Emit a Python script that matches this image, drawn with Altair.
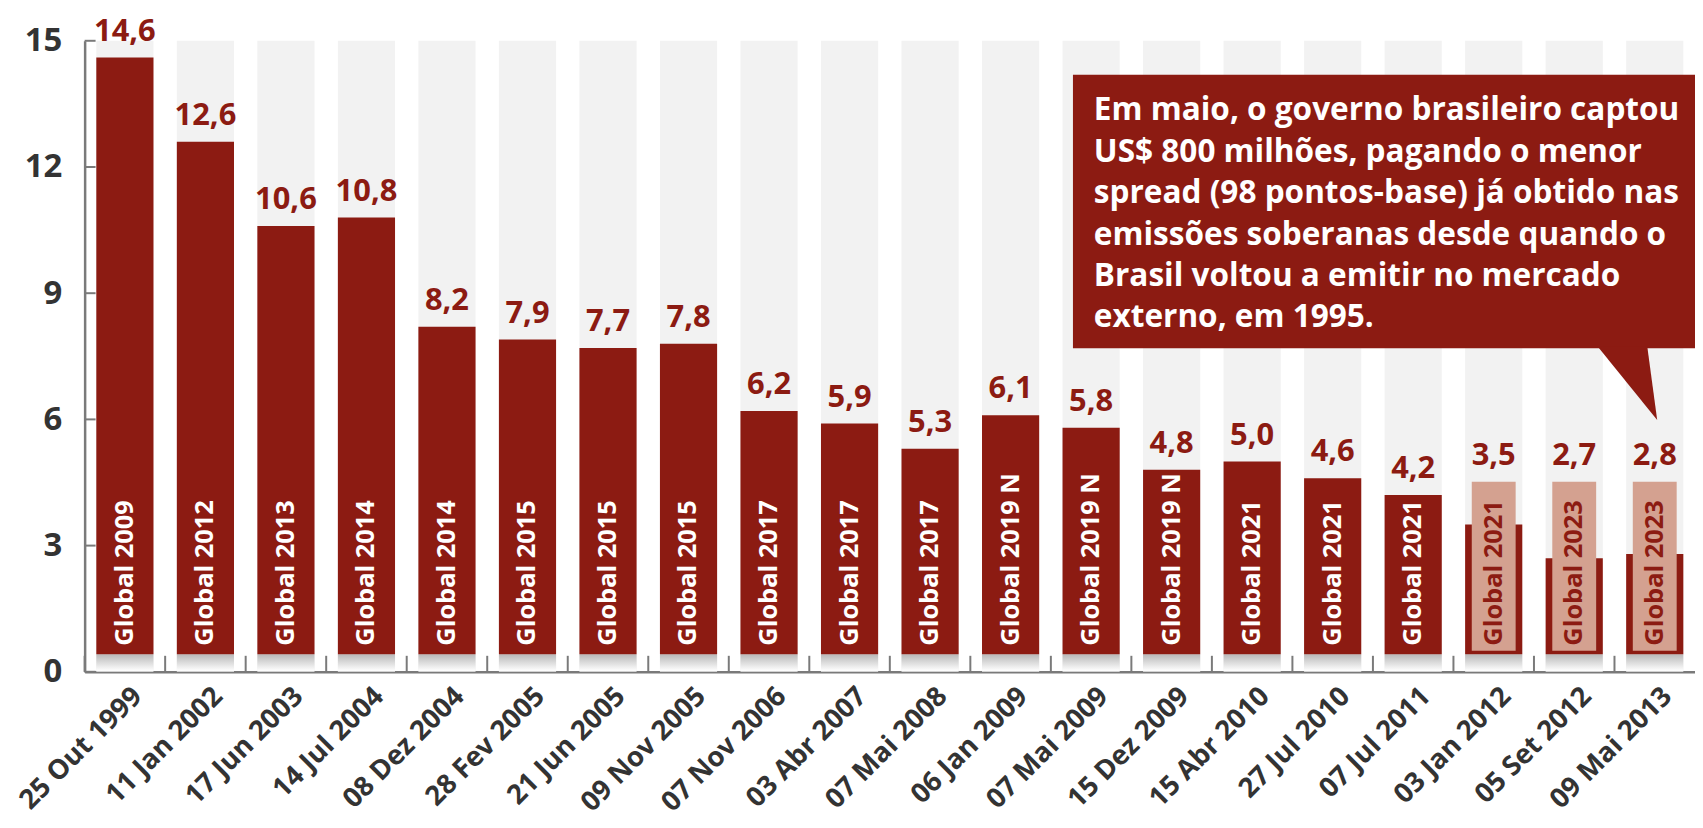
import altair as alt
import pandas as pd

# ---- data ----
dates = ["25 Out 1999", "11 Jan 2002", "17 Jun 2003", "14 Jul 2004", "08 Dez 2004",
         "28 Fev 2005", "21 Jun 2005", "09 Nov 2005", "07 Nov 2006", "03 Abr 2007",
         "07 Mai 2008", "06 Jan 2009", "07 Mai 2009", "15 Dez 2009", "15 Abr 2010",
         "27 Jul 2010", "07 Jul 2011", "03 Jan 2012", "05 Set 2012", "09 Mai 2013"]
values = [14.6, 12.6, 10.6, 10.8, 8.2, 7.9, 7.7, 7.8, 6.2, 5.9,
          5.3, 6.1, 5.8, 4.8, 5.0, 4.6, 4.2, 3.5, 2.7, 2.8]
bonds = ["Global 2009", "Global 2012", "Global 2013", "Global 2014", "Global 2014",
         "Global 2015", "Global 2015", "Global 2015", "Global 2017", "Global 2017",
         "Global 2017", "Global 2019 N", "Global 2019 N", "Global 2019 N", "Global 2021",
         "Global 2021", "Global 2021", "Global 2021", "Global 2023", "Global 2023"]
y_ticks = [0, 3, 6, 9, 12, 15]
note_lines = ["Em maio, o governo brasileiro captou",
              "US$ 800 milhões, pagando o menor",
              "spread (98 pontos-base) já obtido nas",
              "emissões soberanas desde quando o",
              "Brasil voltou a emitir no mercado",
              "externo, em 1995."]

RED = "#8C1B12"
LIGHT = "#D4A190"
GRAY_COL = "#F2F2F2"
AXIS = "#7a7a7a"
TXT = "#333333"
FONT = "Open Sans"

df = pd.DataFrame({"date": dates, "v": values, "bond": bonds})
base = alt.Chart(df)

xscale = alt.Scale(paddingInner=0, paddingOuter=0)
yscale = alt.Scale(domain=[0, 15], nice=False, zero=True)

x_axis = alt.Axis(labelAngle=-45, labelAlign="right", labelBaseline="middle",
                  labelOffset=13, labelPadding=20, ticks=False, domainColor=AXIS,
                  domainWidth=2.5, labelFont=FONT, labelFontSize=27.5,
                  labelFontWeight="bold", labelColor=TXT, labelOverlap=False,
                  grid=False, title=None)
y_axis = alt.Axis(values=y_ticks, ticks=False, grid=False, domainColor=AXIS,
                  domainWidth=2.5, labelFont=FONT, labelFontSize=33,
                  labelFontWeight="bold", labelColor=TXT, labelPadding=23,
                  title=None)


def xe(**kw):
    return alt.X("date:N", sort=dates, title=None, scale=xscale, axis=x_axis, **kw)


def yd(val):
    return alt.Y(datum=val, scale=yscale, axis=y_axis, title=None)


BW = {"band": 0.71}

columns = base.mark_bar(color=GRAY_COL, width=BW).encode(
    x=xe(), y=yd(15), y2=alt.Y2(datum=0))

shadow = base.mark_bar(
    width=BW,
    color=alt.Gradient(gradient="linear",
                       stops=[alt.GradientStop(color="#b8b8b8", offset=0),
                              alt.GradientStop(color="#ffffff", offset=1)],
                       x1=0, x2=0, y1=0, y2=1)
).encode(x=xe(), y=yd(0.42), y2=alt.Y2(datum=0.02))

bars = base.mark_bar(color=RED, width=BW).encode(
    x=xe(),
    y=alt.Y("v:Q", scale=yscale, title=None, axis=y_axis),
    y2=alt.Y2(datum=0.42))

light = base.transform_filter("datum.v < 4").mark_bar(
    color=LIGHT, width={"band": 0.545}).encode(
    x=xe(), y=yd(4.52), y2=alt.Y2(datum=0.5))

bond_text = base.mark_text(angle=270, align="left", baseline="middle", font=FONT,
                           fontSize=25.5, fontWeight="bold").encode(
    x=xe(), y=yd(0.62), text="bond:N",
    color=alt.condition("datum.v < 4", alt.value(RED), alt.value("white")))

val_text = base.transform_calculate(
    ly="datum.v < 4 ? 4.52 : datum.v",
    lab="replace(format(datum.v, '.1f'), '.', ',')"
).mark_text(baseline="bottom", dy=-10, font=FONT, fontSize=31, fontWeight="bold",
            color=RED).encode(
    x=xe(), y=alt.Y("ly:Q", scale=yscale, axis=y_axis, title=None), text="lab:N")

x_ticks = base.mark_rule(color=AXIS, strokeWidth=2).encode(
    x=xe(bandPosition=0), y=yd(0.38), y2=alt.Y2(datum=0))

y_tick_rules = alt.Chart(pd.DataFrame({"t": y_ticks})).mark_rule(
    color=AXIS, strokeWidth=2).encode(
    y=alt.Y("t:Q", scale=yscale, axis=y_axis, title=None),
    x=alt.value(0), x2=alt.value(11))

one = alt.Chart(pd.DataFrame({"a": [0]}))
box = one.mark_rect(color=RED).encode(
    x=alt.value(993), x2=alt.value(1630), y=alt.value(34), y2=alt.value(309))
pointer = one.mark_point(shape="M -0.75 -0.95 L 0.5 -0.95 L 0.75 0.9 Z", size=6400,
                         filled=True, color=RED, opacity=1, strokeWidth=0).encode(
    x=alt.value(1550), y=alt.value(345))
note = one.mark_text(align="left", baseline="alphabetic", lineBreak="\n",
                     lineHeight=41.6, font=FONT, fontSize=31.7, fontWeight="bold",
                     color="white").encode(
    x=alt.value(1014), y=alt.value(80), text=alt.value("\n".join(note_lines)))

chart = alt.layer(columns, shadow, bars, light, bond_text, val_text, x_ticks,
                  y_tick_rules, box, pointer, note).properties(
    width=1618, height=634,
    padding={"left": 77, "top": 31, "right": 0, "bottom": 155},
    autosize="none", background="white"
).configure_view(stroke=None)

chart.save("out.html", embed_options={"renderer": "svg", "actions": False})
